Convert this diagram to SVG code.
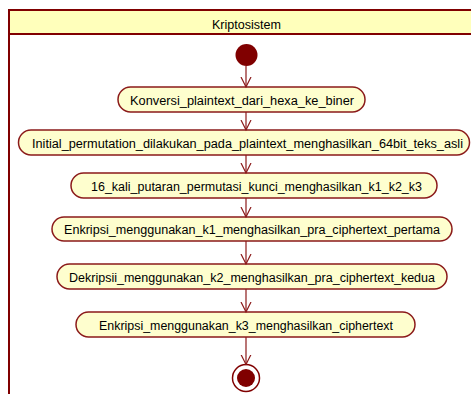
<svg xmlns="http://www.w3.org/2000/svg" width="471" height="394" viewBox="0 0 471 394">
<style>
.act rect{fill:#FEFECE;stroke:#8B1A1A;stroke-width:1.5}
.act text,.hdr{font-family:"Liberation Sans",Arial,sans-serif;font-size:12px;fill:#000;text-anchor:middle}
.conn line{stroke:#8B1A1A;stroke-width:1.2}
</style>
<defs>
<marker id="arr" markerWidth="12" markerHeight="12" refX="10" refY="5" orient="auto" markerUnits="userSpaceOnUse" viewBox="0 0 12 10">
<path d="M0,0 L10,5 L0,10" fill="none" stroke="#8B1A1A" stroke-width="1.2"/>
</marker>
</defs>
<rect width="471" height="394" fill="#fff"/>
<g id="frame">
<rect x="9" y="10" width="470" height="24" fill="#FFFFBB"/>
<line x1="8" y1="10" x2="471" y2="10" stroke="#800000" stroke-width="2"/>
<line x1="9" y1="34" x2="471" y2="34" stroke="#800000" stroke-width="2"/>
<line x1="9" y1="9" x2="9" y2="394" stroke="#800000" stroke-width="2"/>
<text class="hdr" x="246.5" y="29" textLength="69" lengthAdjust="spacingAndGlyphs">Kriptosistem</text>
</g>
<g id="start"><circle cx="246.5" cy="55" r="11" fill="#800000"/></g>
<g id="a1" class="act"><rect x="118" y="87" width="247" height="25" rx="12.5"/><text x="242" y="104.5" textLength="224" lengthAdjust="spacingAndGlyphs">Konversi_plaintext_dari_hexa_ke_biner</text></g>
<g id="a2" class="act"><rect x="18.5" y="130" width="451" height="25" rx="12.5"/><text x="247.5" y="147.5" textLength="431" lengthAdjust="spacingAndGlyphs">Initial_permutation_dilakukan_pada_plaintext_menghasilkan_64bit_teks_asli</text></g>
<g id="a3" class="act"><rect x="71" y="173" width="366" height="25" rx="12.5"/><text x="256.5" y="190.5" textLength="331" lengthAdjust="spacingAndGlyphs">16_kali_putaran_permutasi_kunci_menghasilkan_k1_k2_k3</text></g>
<g id="a4" class="act"><rect x="52" y="217" width="400" height="24" rx="12"/><text x="252" y="234" textLength="376" lengthAdjust="spacingAndGlyphs">Enkripsi_menggunakan_k1_menghasilkan_pra_ciphertext_pertama</text></g>
<g id="a5" class="act"><rect x="57" y="264" width="390" height="25" rx="12.5"/><text x="252" y="281.5" textLength="366" lengthAdjust="spacingAndGlyphs">Dekripsii_menggunakan_k2_menghasilkan_pra_ciphertext_kedua</text></g>
<g id="a6" class="act"><rect x="76" y="312" width="339" height="25" rx="12.5"/><text x="246" y="329.5" textLength="294" lengthAdjust="spacingAndGlyphs">Enkripsi_menggunakan_k3_menghasilkan_ciphertext</text></g>
<g id="end"><circle cx="246" cy="378" r="13.5" fill="#fff" stroke="#800000" stroke-width="1.5"/><circle cx="246" cy="378" r="9" fill="#800000"/></g>
<g id="connectors" class="conn">
<line x1="246" y1="66" x2="246" y2="87" marker-end="url(#arr)"/>
<line x1="246" y1="112" x2="246" y2="130" marker-end="url(#arr)"/>
<line x1="246" y1="155" x2="246" y2="173" marker-end="url(#arr)"/>
<line x1="246" y1="198" x2="246" y2="217" marker-end="url(#arr)"/>
<line x1="246" y1="241" x2="246" y2="264" marker-end="url(#arr)"/>
<line x1="246" y1="289" x2="246" y2="312" marker-end="url(#arr)"/>
<line x1="246" y1="337" x2="246" y2="364.5" marker-end="url(#arr)"/>
</g>
</svg>
